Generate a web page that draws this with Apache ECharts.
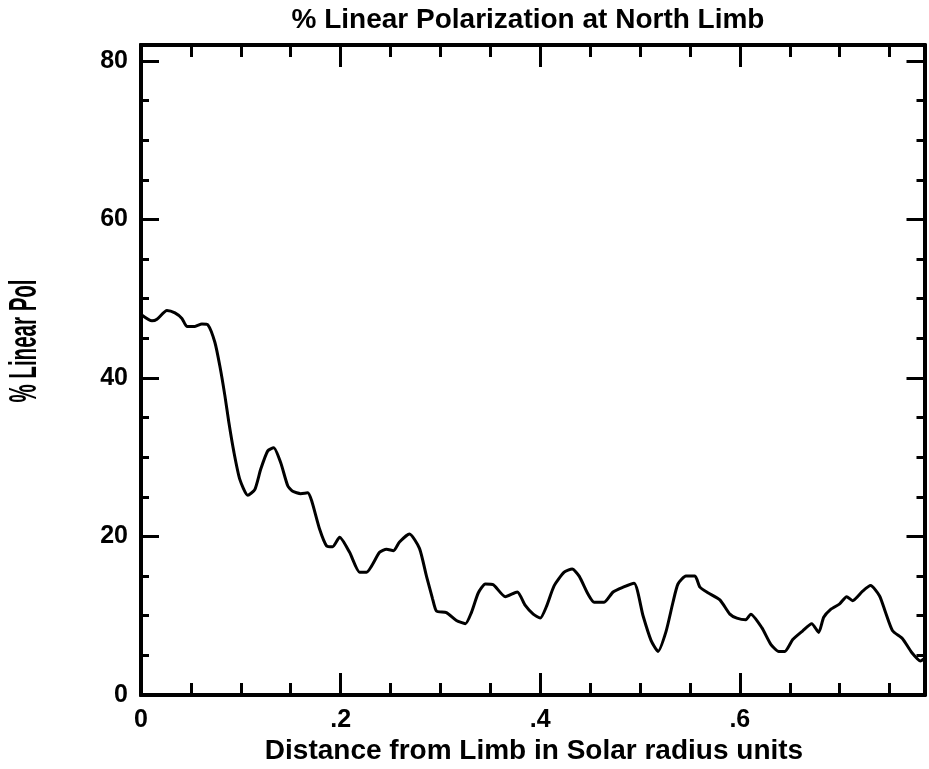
<!DOCTYPE html>
<html>
<head>
<meta charset="utf-8">
<script src="https://cdn.jsdelivr.net/npm/echarts@6/dist/echarts.min.js"></script>
<style>
html,body{margin:0;padding:0;background:#fff;}
#chart{width:929px;height:769px;}
</style>
</head>
<body>
<div id="chart"></div>
<script>
var titleText = '% Linear Polarization at North Limb';
var xAxisTitle = 'Distance from Limb in Solar radius units';
var yAxisTitle = '% Linear Pol';

var xValues = [0, 0.011, 0.016, 0.026, 0.034, 0.041, 0.046, 0.054, 0.061, 0.067, 0.074, 0.079, 0.084, 0.088, 0.093, 0.099, 0.107, 0.114, 0.120, 0.127, 0.133, 0.140, 0.147, 0.152, 0.160, 0.167, 0.171, 0.179, 0.186, 0.192, 0.199, 0.209, 0.219, 0.226, 0.239, 0.246, 0.253, 0.259, 0.269, 0.279, 0.286, 0.292, 0.296, 0.306, 0.316, 0.325, 0.331, 0.338, 0.345, 0.353, 0.365, 0.377, 0.385, 0.393, 0.400, 0.406, 0.414, 0.424, 0.432, 0.439, 0.448, 0.454, 0.464, 0.473, 0.483, 0.494, 0.503, 0.511, 0.518, 0.526, 0.533, 0.538, 0.546, 0.555, 0.560, 0.568, 0.580, 0.590, 0.597, 0.606, 0.611, 0.622, 0.631, 0.639, 0.645, 0.653, 0.663, 0.672, 0.679, 0.684, 0.691, 0.700, 0.707, 0.713, 0.723, 0.731, 0.740, 0.746, 0.753, 0.763, 0.772, 0.781, 0.785];
var polValues = [48.0, 47.2, 47.4, 48.5, 48.2, 47.5, 46.5, 46.5, 46.8, 46.7, 44.5, 41.5, 37.8, 34.4, 30.7, 27.2, 25.2, 25.9, 28.5, 30.8, 31.2, 29.3, 26.4, 25.7, 25.4, 25.5, 24.5, 20.9, 18.8, 18.7, 19.9, 18.0, 15.5, 15.5, 18.0, 18.4, 18.2, 19.3, 20.3, 18.5, 15.0, 12.2, 10.6, 10.4, 9.4, 9.0, 10.4, 12.9, 14.0, 13.9, 12.4, 13.0, 11.3, 10.2, 9.7, 11.1, 13.8, 15.5, 15.9, 15.0, 12.7, 11.7, 11.7, 13.0, 13.6, 14.1, 10.0, 6.9, 5.5, 8.0, 11.7, 14.0, 15.0, 15.0, 13.6, 12.9, 12.0, 10.2, 9.7, 9.5, 10.2, 8.5, 6.4, 5.5, 5.5, 7.0, 8.1, 9.0, 7.9, 9.8, 10.8, 11.5, 12.4, 11.9, 13.1, 13.8, 12.5, 10.4, 8.1, 7.1, 5.4, 4.3, 4.6];

var xMin = 0, xMax = 0.785, xMajor = 0.2, xMinor = 0.05;
var yMin = 0, yMax = 82, yMajor = 20, yMinor = 5;

var seriesData = xValues.map(function (x, i) { return [x, polValues[i]]; });

var FONT = '"Liberation Sans", sans-serif';
var AX = '#000';

function fmtX(v) {
  if (v === 0) return '0';
  var s = String(Math.round(v * 10) / 10);
  return s.replace(/^0/, '');
}

function xAx(pos, interval, tickLen, showLabel) {
  return {
    type: 'value', position: pos, min: xMin, max: xMax, interval: interval,
    axisLine: { show: true, onZero: false, lineStyle: { color: AX, width: 4 } },
    axisTick: { show: true, inside: true, length: tickLen, lineStyle: { color: AX, width: 3 } },
    axisLabel: showLabel ? { show: true, formatter: fmtX, showMaxLabel: false, margin: 13,
      color: '#000', fontFamily: FONT, fontWeight: 'bold', fontSize: 25 } : { show: false },
    splitLine: { show: false }
  };
}
function yAx(pos, interval, tickLen, showLabel) {
  return {
    type: 'value', position: pos, min: yMin, max: yMax, interval: interval,
    axisLine: { show: true, onZero: false, lineStyle: { color: AX, width: 4 } },
    axisTick: { show: true, inside: true, length: tickLen, lineStyle: { color: AX, width: 3 } },
    axisLabel: showLabel ? { show: true, showMaxLabel: false, margin: 13,
      color: '#000', fontFamily: FONT, fontWeight: 'bold', fontSize: 25 } : { show: false },
    splitLine: { show: false }
  };
}

var chart = echarts.init(document.getElementById('chart'), null, { renderer: 'canvas' });
chart.setOption({
  backgroundColor: '#fff',
  animation: false,
  grid: { left: 141, right: 4.5, top: 45, bottom: 74, containLabel: false },
  xAxis: [
    xAx('bottom', xMajor, 22, true),
    xAx('bottom', xMinor, 12, false),
    xAx('top', xMajor, 22, false),
    xAx('top', xMinor, 12, false)
  ],
  yAxis: [
    yAx('left', yMajor, 18, true),
    yAx('left', yMinor, 8, false),
    yAx('right', yMajor, 18, false),
    yAx('right', yMinor, 8, false)
  ],
  graphic: [
    { type: 'text', x: 528, y: 20, silent: true,
      style: { text: titleText, fill: '#000', font: 'bold 28px "Liberation Sans", sans-serif',
        textAlign: 'center', textVerticalAlign: 'middle' } },
    { type: 'text', x: 534, y: 751, silent: true,
      style: { text: xAxisTitle, fill: '#000', font: 'bold 28px "Liberation Sans", sans-serif',
        textAlign: 'center', textVerticalAlign: 'middle' } },
    { type: 'text', x: 26, y: 341, rotation: Math.PI / 2, scaleX: 0.54, silent: true,
      style: { text: yAxisTitle, fill: '#000', font: 'bold 38px "Liberation Sans", sans-serif',
        textAlign: 'center', textVerticalAlign: 'middle' } }
  ],
  series: [{
    type: 'line', xAxisIndex: 0, yAxisIndex: 0, data: seriesData,
    showSymbol: false, symbol: 'none', smooth: 0.2,
    lineStyle: { color: '#000', width: 3 }
  }]
});
</script>
</body>
</html>
